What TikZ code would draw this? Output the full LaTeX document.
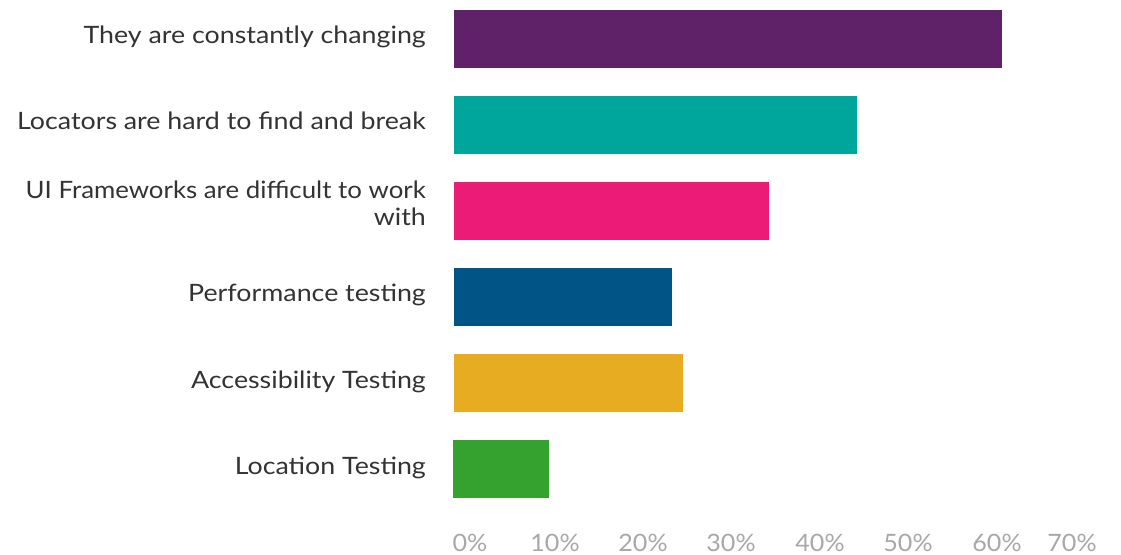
\documentclass[tikz,border=0pt]{standalone}
\usepackage{fontspec}
\setmainfont[FakeStretch=1.12]{Lato}
\newfontfamily\tickfont[FakeStretch=1.05]{Lato}
\definecolor{cpurple}{HTML}{5F2167}
\definecolor{cteal}{HTML}{00A59B}
\definecolor{cpink}{HTML}{ED1B78}
\definecolor{cblue}{HTML}{005587}
\definecolor{cgold}{HTML}{E8AC22}
\definecolor{cgreen}{HTML}{35A12E}
\definecolor{ctext}{HTML}{333333}
\definecolor{caxis}{HTML}{A8A8A8}
\tikzset{
  cat/.style={anchor=base east, text=ctext, font=\fontsize{24}{27}\selectfont, align=right, inner sep=0pt},
  tick/.style={anchor=base, text=caxis, font=\tickfont\fontsize{24}{30}\selectfont, inner sep=0pt}
}
\begin{document}
\begin{tikzpicture}[x=1bp,y=-1bp]
\useasboundingbox (0,0) rectangle (1121,555);
\fill[white] (0,0) rectangle (1121,555);
\fill[cpurple] (454,10) rectangle (1002,68);
\fill[cteal] (454,96) rectangle (857,154);
\fill[cpink] (454,182) rectangle (769,240);
\fill[cblue] (454,268) rectangle (672,326);
\fill[cgold] (454,354) rectangle (683,412);
\fill[cgreen] (453,440) rectangle (549,498);
\node[cat] (c1) at (426,44) {They are constantly changing};
\node[cat] (c2) at (426,130) {Locators are hard to find and break};
\node[cat, font=\addfontfeatures{FakeStretch=1.08}\fontsize{24}{27}\selectfont] (c3) at (426,199) {UI Frameworks are difficult to work};
\node[cat] (c3b) at (426,226) {with};
\node[cat] (c4) at (426,302) {Performance testing};
\node[cat] (c5) at (426,388) {Accessibility Testing};
\node[cat] (c6) at (426,474) {Location Testing};
\node[tick] (t0) at (470,551) {0\%};
\node[tick] (t1) at (555,551) {10\%};
\node[tick] (t2) at (643,551) {20\%};
\node[tick] (t3) at (731,551) {30\%};
\node[tick] (t4) at (820,551) {40\%};
\node[tick] (t5) at (908,551) {50\%};
\node[tick] (t6) at (997,551) {60\%};
\node[tick] (t7) at (1072,551) {70\%};
\end{tikzpicture}
\end{document}
